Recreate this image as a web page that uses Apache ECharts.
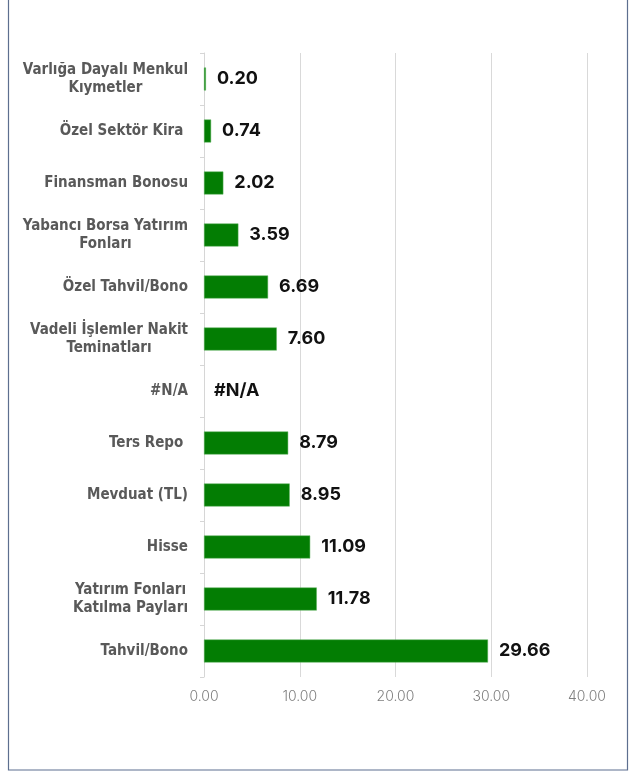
<!DOCTYPE html>
<html>
<head>
<meta charset="utf-8">
<script src="https://cdn.jsdelivr.net/npm/echarts@6/dist/echarts.min.js"></script>
<style>
  html, body { margin: 0; padding: 0; background: #fff; }
  #chart { width: 637px; height: 776px; }
</style>
</head>
<body>
<div id="chart"></div>
<script>
// kategoriler (yukaridan asagiya)
var categories = [
    'Varlığa Dayalı Menkul\nKıymetler',
    'Özel Sektör Kira ',
    'Finansman Bonosu',
    'Yabancı Borsa Yatırım\nFonları',
    'Özel Tahvil/Bono',
    'Vadeli İşlemler Nakit\nTeminatları',
    '#N/A',
    'Ters Repo ',
    'Mevduat (TL)',
    'Hisse',
    'Yatırım Fonları\nKatılma Payları',
    'Tahvil/Bono'
];
// null = #N/A
var values = [0.20, 0.74, 2.02, 3.59, 6.69, 7.60, null, 8.79, 8.95, 11.09, 11.78, 29.66];
var xTicks = [0, 10, 20, 30, 40];

var myChart = echarts.init(document.getElementById('chart'));

var seriesData = values.map(function (v) {
    if (v === null) {
        return {
            value: 0,
            itemStyle: { color: 'rgba(0,0,0,0)', borderWidth: 0 },
            label: { formatter: '#N/A', distance: 10 }
        };
    }
    return v;
});

var catFont = {
    color: '#595959',
    fontFamily: '"DejaVu Sans Condensed", "Liberation Sans", sans-serif',
    fontWeight: 'bold',
    fontSize: 15,
    lineHeight: 18
};

var option = {
    backgroundColor: '#fff',
    animation: false,
    graphic: [{
        type: 'rect',
        shape: { x: 8.5, y: -5, width: 619, height: 775 },
        style: { fill: 'none', stroke: '#5d6f8f', lineWidth: 1.2 },
        silent: true
    }],
    grid: { left: 204, right: 50, top: 53, bottom: 99, containLabel: false },
    xAxis: {
        type: 'value',
        min: xTicks[0],
        max: xTicks[xTicks.length - 1],
        interval: 10,
        axisLine: { show: false },
        axisTick: { show: false },
        splitLine: { lineStyle: { color: '#d9d9d9', width: 1 } },
        axisLabel: {
            color: '#7f7f7f',
            fontFamily: 'Inter',
            fontWeight: 300,
            fontSize: 14,
            margin: 13,
            formatter: function (v) { return v.toFixed(2); }
        }
    },
    yAxis: {
        type: 'category',
        data: categories,
        inverse: true,
        axisLine: { show: true, lineStyle: { color: '#d6d6d6' } },
        axisTick: { show: true, length: 4, lineStyle: { color: '#d6d6d6' } },
        axisLabel: Object.assign({
            align: 'right',
            margin: 16,
            // satirlar blok icinde ortali
            formatter: function (v) {
                return v.split('\n').map(function (l) { return '{c|' + l + '}'; }).join('\n');
            },
            rich: { c: Object.assign({ align: 'center' }, catFont) }
        }, catFont)
    },
    series: [{
        type: 'bar',
        data: seriesData,
        barWidth: 23,
        itemStyle: { color: '#037d03', borderColor: '#5fb35f', borderWidth: 0.5 },
        label: {
            show: true,
            position: 'right',
            distance: 11,
            color: '#111',
            fontFamily: 'Inter',
            fontWeight: 'bold',
            fontSize: 18,
            formatter: function (p) { return p.value.toFixed(2); }
        }
    }]
};

myChart.setOption(option);
</script>
</body>
</html>
